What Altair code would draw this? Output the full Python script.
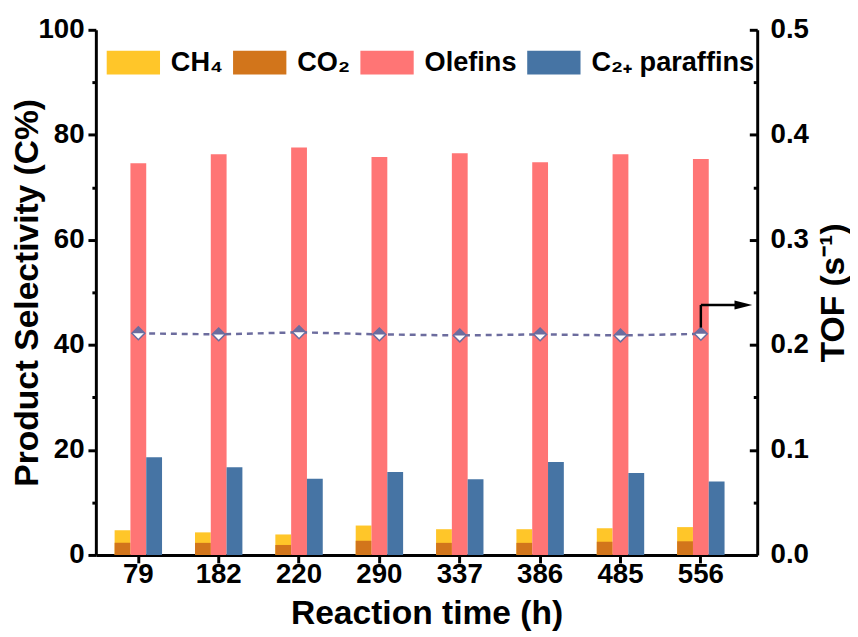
import altair as alt
import pandas as pd

# ---- data ----
times = ["79", "182", "220", "290", "337", "386", "485", "556"]
ch4 = [4.7, 4.3, 3.9, 5.6, 4.9, 4.9, 5.1, 5.3]
co2 = [2.3, 2.3, 1.9, 2.7, 2.3, 2.3, 2.5, 2.6]
olefins = [74.6, 76.3, 77.6, 75.8, 76.5, 74.8, 76.3, 75.4]
paraffins = [18.6, 16.7, 14.5, 15.8, 14.4, 17.7, 15.6, 14.0]
tof = [0.211, 0.210, 0.212, 0.210, 0.209, 0.210, 0.209, 0.2105]

species = ["CH₄", "CO₂", "Olefins", "C₂₊ paraffins"]
colors = ["#FFC629", "#D2751B", "#FF7575", "#4674A4"]
slots = {"CH₄": 0, "CO₂": 0, "Olefins": 1, "C₂₊ paraffins": 2}

# arrow annotation (pointing to the TOF axis)
arrow_time = "556"
arrow_y0 = 0.2165
arrow_y1 = 0.238

rows = []
for name, vals in [("CH₄", ch4), ("Olefins", olefins), ("C₂₊ paraffins", paraffins), ("CO₂", co2)]:
    for t, v in zip(times, vals):
        rows.append({"time": t, "species": name, "slot": slots[name], "value": v})
bars_df = pd.DataFrame(rows)
tof_df = pd.DataFrame({"time": times, "tof": tof})
arrow_df = pd.DataFrame({"time": [arrow_time], "tof": [arrow_y0], "tof2": [arrow_y1]})

FONT = "Liberation Sans"
LABEL_SIZE = 28
LEGEND_SIZE = 27.5
TITLE_SIZE = 34
LINE_COLOR = "#6C6C9E"

x_enc = alt.X(
    "time:N",
    sort=times,
    scale=alt.Scale(paddingInner=0.41, paddingOuter=0.32, align=0.365),
    axis=alt.Axis(
        title="Reaction time (h)",
        labelAngle=0,
        tickSize=8,
        tickWidth=3,
        domainWidth=3,
        labelPadding=-2,
        titlePadding=8,
    ),
)

y_left = alt.Y(
    "value:Q",
    stack=None,
    scale=alt.Scale(domain=[0, 100], nice=False),
    axis=alt.Axis(
        title="Product Selectivity (C%)",
        values=list(range(0, 101, 10)),
        labelExpr="datum.value % 20 === 0 ? datum.label : ''",
        tickSize={"condition": {"test": "datum.value % 20 === 0", "value": 8}, "value": 4},
        tickWidth=3,
        domainWidth=3,
        grid=False,
        labelPadding=4,
        titlePadding=-7,
    ),
)

bars = alt.Chart(bars_df).mark_bar().encode(
    x=x_enc,
    xOffset=alt.XOffset("slot:O", scale=alt.Scale(domain=[0, 1, 2], paddingInner=0, paddingOuter=0)),
    y=y_left,
    color=alt.Color(
        "species:N",
        scale=alt.Scale(domain=species, range=colors),
        legend=alt.Legend(
            title=None,
            orient="none",
            legendX=11,
            legendY=6,
            direction="horizontal",
            symbolType="M-1,-0.45H1V0.45H-1Z",
            symbolSize=2916,
            symbolStrokeWidth=0,
            symbolOpacity=1,
            labelFontSize=LEGEND_SIZE,
            labelFont=FONT,
            labelFontWeight="bold",
            labelLimit=0,
            labelOffset=11,
            columnPadding=10,
            padding=0,
        ),
    ),
    order=alt.Order("slot:O"),
)

y_right_axis = alt.Axis(
    title="TOF (s⁻¹)",
    orient="right",
    values=[round(i * 0.05, 2) for i in range(11)],
    labelExpr="round(datum.value * 100) % 10 === 0 ? format(datum.value, '.1f') : ''",
    tickSize={"condition": {"test": "round(datum.value * 100) % 10 === 0", "value": -8}, "value": -4},
    tickWidth=3,
    domainWidth=3,
    grid=False,
    labelPadding=21,
    titlePadding=8,
    titleAngle=270,
    titleBaseline="top",
)


def y_right(field):
    return alt.Y(f"{field}:Q", scale=alt.Scale(domain=[0, 0.5], nice=False), axis=y_right_axis)


line = alt.Chart(tof_df).mark_line(color=LINE_COLOR, strokeWidth=2.5, strokeDash=[6, 5]).encode(
    x=alt.X("time:N", sort=times), y=y_right("tof")
)
pts_bg = alt.Chart(tof_df).mark_point(
    shape="M-1,0L0,-1L1,0L0,1Z", size=170, filled=True, fill="white", stroke=LINE_COLOR, strokeWidth=1.5, opacity=1
).encode(x=alt.X("time:N", sort=times), y=y_right("tof"))
pts_half = alt.Chart(tof_df).mark_point(
    shape="M-1,0L0,-1L1,0Z", size=170, filled=True, color=LINE_COLOR, opacity=1
).encode(x=alt.X("time:N", sort=times), y=y_right("tof"))

arrow_v = alt.Chart(arrow_df).mark_rule(color="black", strokeWidth=2.5).encode(
    x=alt.X("time:N", sort=times), y=y_right("tof"), y2=alt.Y2("tof2")
)
arrow_h = alt.Chart(arrow_df).mark_rule(color="black", strokeWidth=2.5).encode(
    x=alt.X("time:N", sort=times), x2=alt.value(648), y=y_right("tof2")
)
arrow_head = alt.Chart(arrow_df).mark_point(
    shape="M-1,-0.5L1,0L-1,0.5Z", size=324, filled=True, color="black", opacity=1
).encode(x=alt.value(656), y=y_right("tof2"))

tof_layer = alt.layer(line, pts_bg, pts_half, arrow_v, arrow_h, arrow_head)

chart = (
    alt.layer(bars, tof_layer)
    .resolve_scale(y="independent")
    .properties(width=670, height=532, padding={"left": 3, "top": 4, "right": 0, "bottom": 0})
    .configure_view(strokeWidth=0)
    .configure_axis(
        labelFont=FONT,
        labelFontSize=LABEL_SIZE,
        labelFontWeight="bold",
        labelColor="black",
        titleFont=FONT,
        titleFontSize=TITLE_SIZE,
        titleFontWeight="bold",
        titleColor="black",
        domainColor="black",
        tickColor="black",
    )
)

chart.save("out.html", embed_options={"renderer": "svg", "actions": False})
